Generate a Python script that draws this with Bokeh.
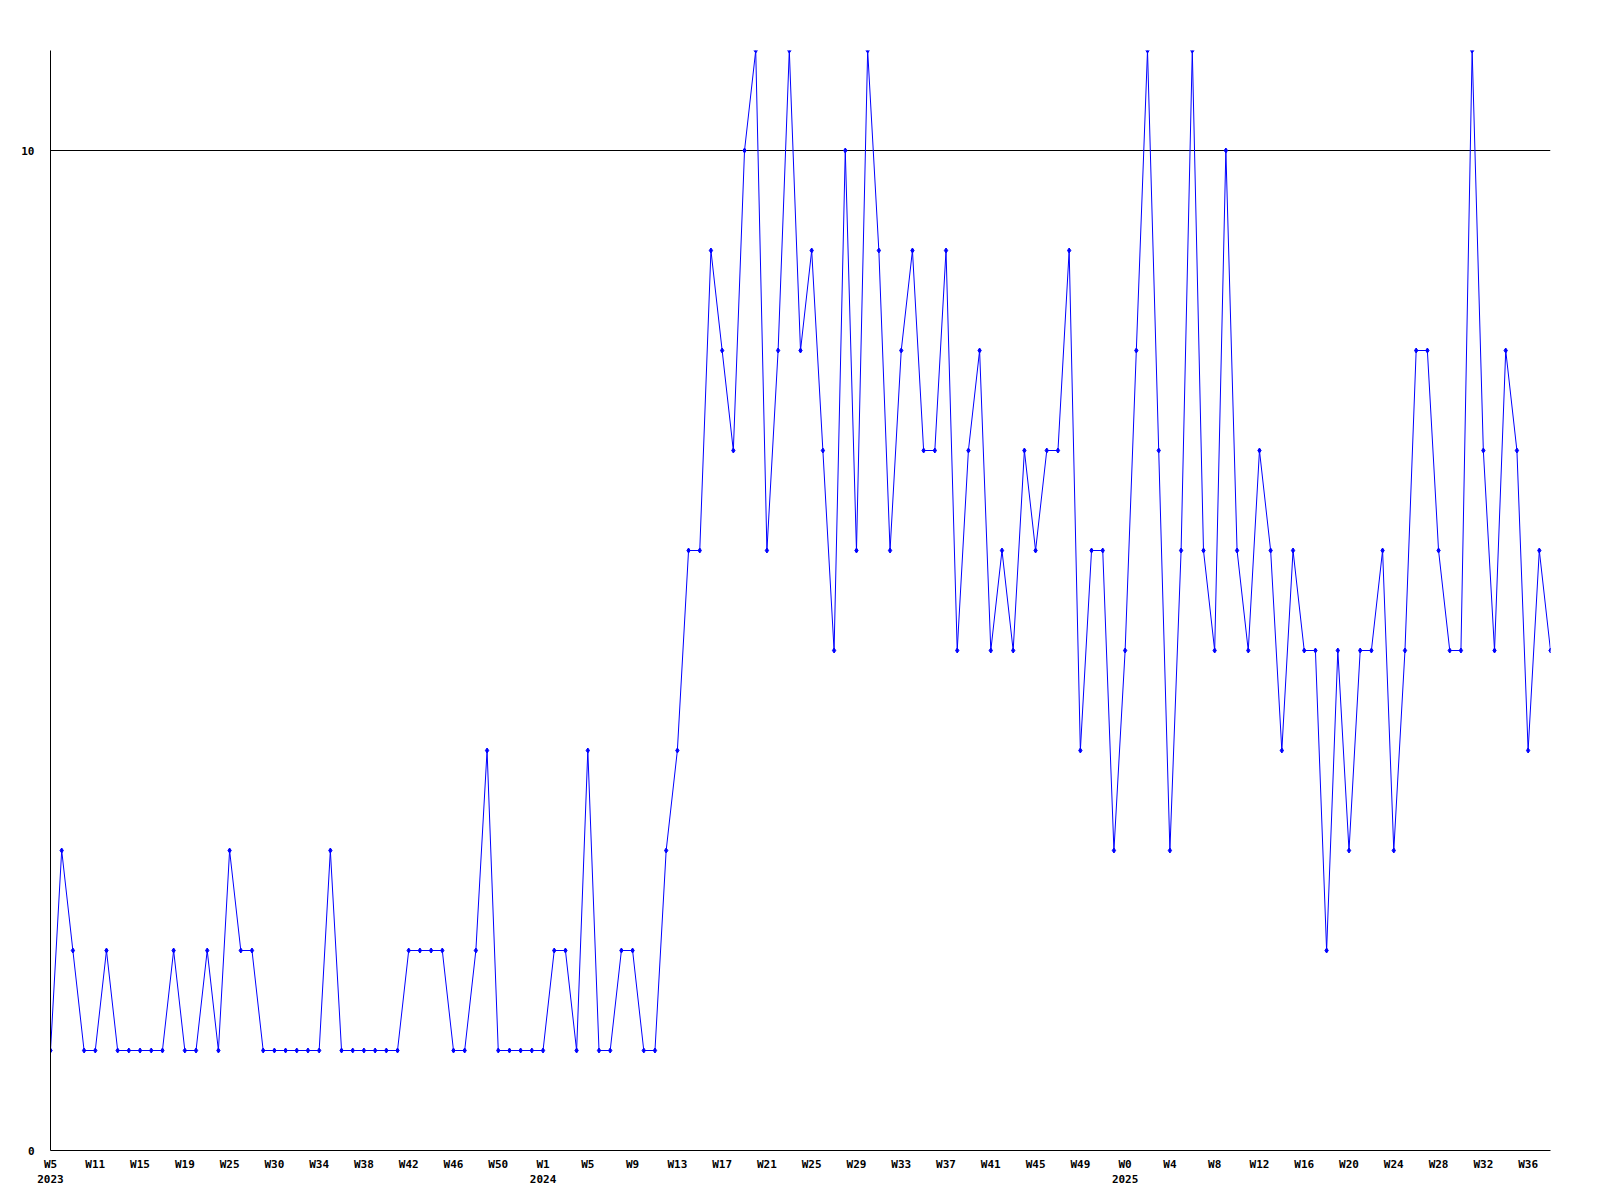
from bokeh.plotting import figure
from bokeh.models import Range1d, FixedTicker
from bokeh.embed import file_html
from bokeh.resources import INLINE

# Weekly values, W5 2023 .. W38 2025 (one point per week present in the data)
values = [
    1, 3, 2, 1, 1, 2, 1, 1, 1, 1, 1, 2, 1, 1, 2, 1, 3, 2, 2, 1, 1, 1, 1,
    1, 1, 3, 1, 1, 1, 1, 1, 1, 2, 2, 2, 2, 1, 1, 2, 4, 1, 1, 1, 1, 1,
    2, 2, 1, 4, 1, 1, 2, 2, 1, 1, 3, 4, 6, 6, 9, 8, 7, 10, 11, 6, 8, 11, 8,
    9, 7, 5, 10, 6, 11, 9, 6, 8, 9, 7, 7, 9, 5, 7, 8, 5, 6, 5, 7, 6, 7,
    7, 9, 4, 6, 6, 3, 5, 8, 11, 7, 3, 6, 11, 6, 5, 10, 6, 5, 7, 6, 4, 6,
    5, 5, 2, 5, 3, 5, 5, 6, 3, 5, 8, 8, 6, 5, 5, 11, 7, 5, 8, 7, 4, 6, 5,
]

# Tick labels: one every 4th point
week_labels = [
    "W5", "W11", "W15", "W19", "W25", "W30", "W34", "W38", "W42", "W46", "W50",
    "W1", "W5", "W9", "W13", "W17", "W21", "W25", "W29", "W33", "W37", "W41", "W45", "W49",
    "W0", "W4", "W8", "W12", "W16", "W20", "W24", "W28", "W32", "W36",
]
year_labels = [
    "2023", "", "", "", "", "", "", "", "", "", "",
    "2024", "", "", "", "", "", "", "", "", "", "", "", "",
    "2025", "", "", "", "", "", "", "", "", "",
]
label_step = 4
y_ticks = [0, 10]
y_max = 11

xs = list(range(len(values)))
tick_pos = [i * label_step for i in range(len(week_labels))]
overrides = {}
for pos, w, yr in zip(tick_pos, week_labels, year_labels):
    overrides[pos] = w + ("\n" + yr if yr else "")

FONT = "DejaVu Sans Mono"

p = figure(
    frame_width=1500, frame_height=1100,
    min_border_left=50, min_border_top=50, min_border_right=36, min_border_bottom=38,
    output_backend="svg", toolbar_location=None, tools="",
    x_range=Range1d(0, len(values) - 1), y_range=Range1d(0, y_max),
)
p.outline_line_color = None
p.background_fill_color = "white"
p.border_fill_color = "white"

p.line(xs, values, line_color="#0000FF", line_width=1)
p.scatter(xs, values, marker="diamond", size=5, fill_color="#0000FF", line_color="#0000FF")

# axes
for ax in (p.xaxis[0], p.yaxis[0]):
    ax.axis_line_color = "black"
    ax.axis_line_width = 1
    ax.major_tick_line_color = None
    ax.minor_tick_line_color = None
    ax.major_label_text_font = FONT
    ax.major_label_text_font_style = "bold"
    ax.major_label_text_font_size = "11px"
    ax.major_label_text_color = "black"

p.xaxis.ticker = FixedTicker(ticks=tick_pos)
p.xaxis.major_label_overrides = overrides
p.xaxis.major_label_standoff = 1
p.yaxis.ticker = FixedTicker(ticks=y_ticks)
p.yaxis.major_label_standoff = 10

p.xgrid.grid_line_color = None
p.ygrid.ticker = FixedTicker(ticks=y_ticks)
p.ygrid.grid_line_color = "black"
p.ygrid.grid_line_width = 1

open("out.html", "w").write(file_html(p, INLINE))
